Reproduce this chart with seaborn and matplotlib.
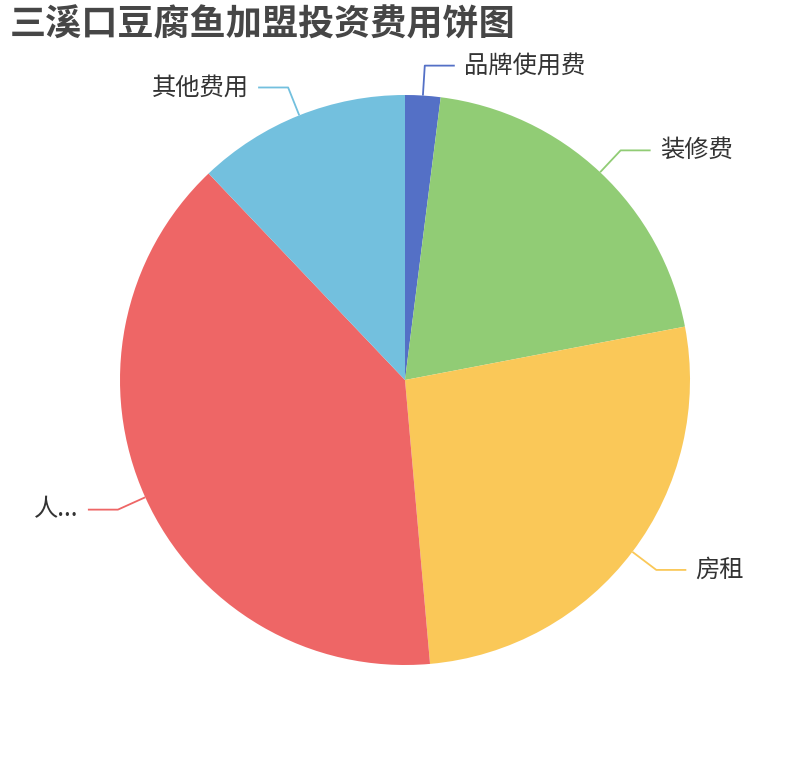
import numpy as np
import matplotlib
matplotlib.use('Agg')
import matplotlib.pyplot as plt
import seaborn as sns

sns.set_theme(style='white')
plt.rcParams['font.family'] = ['Noto Sans CJK SC', 'DejaVu Sans']

# 데이터
categories = ['品牌使用费', '装修费', '房租', '人...', '其他费用']
values = [2.0, 20.0, 26.6, 39.3, 12.1]
colors = ['#5470c6', '#91cc75', '#fac858', '#ee6666', '#73c0de']
title = '三溪口豆腐鱼加盟投资费用饼图'

W, H = 810, 760
cx, cy, R = 405, 380, 285

fig = plt.figure(figsize=(W / 100, H / 100), dpi=100)
ax = fig.add_axes([0, 0, 1, 1])

ax.pie(values, colors=colors, startangle=90, counterclock=False,
       center=(cx, cy), radius=R,
       wedgeprops=dict(linewidth=0))

ax.set_xlim(0, W)
ax.set_ylim(0, H)
ax.set_aspect('equal')
ax.axis('off')

# 라벨 + 안내선
total = sum(values)
cum = np.cumsum(values)
len1, len2, gap = 30, 30, 9
for name, v, c, col in zip(categories, values, cum, colors):
    mid = np.deg2rad((c - v / 2) / total * 360)
    s, co = np.sin(mid), np.cos(mid)
    x0, y0 = cx + R * s, cy + R * co
    x1, y1 = cx + (R + len1) * s, cy + (R + len1) * co
    side = 1 if s >= 0 else -1
    x2 = x1 + side * len2
    ax.plot([x0, x1, x2], [y0, y1, y1], color=col, lw=1.3,
            solid_capstyle='butt')
    ax.text(x2 + side * gap, y1, name, fontsize=17.5, color='#333333',
            ha='left' if side > 0 else 'right', va='center')

ax.text(10, H - 25, title, fontsize=26, fontweight='heavy',
        color='#464646', ha='left', va='center')

plt.savefig('out.png', dpi=100)
